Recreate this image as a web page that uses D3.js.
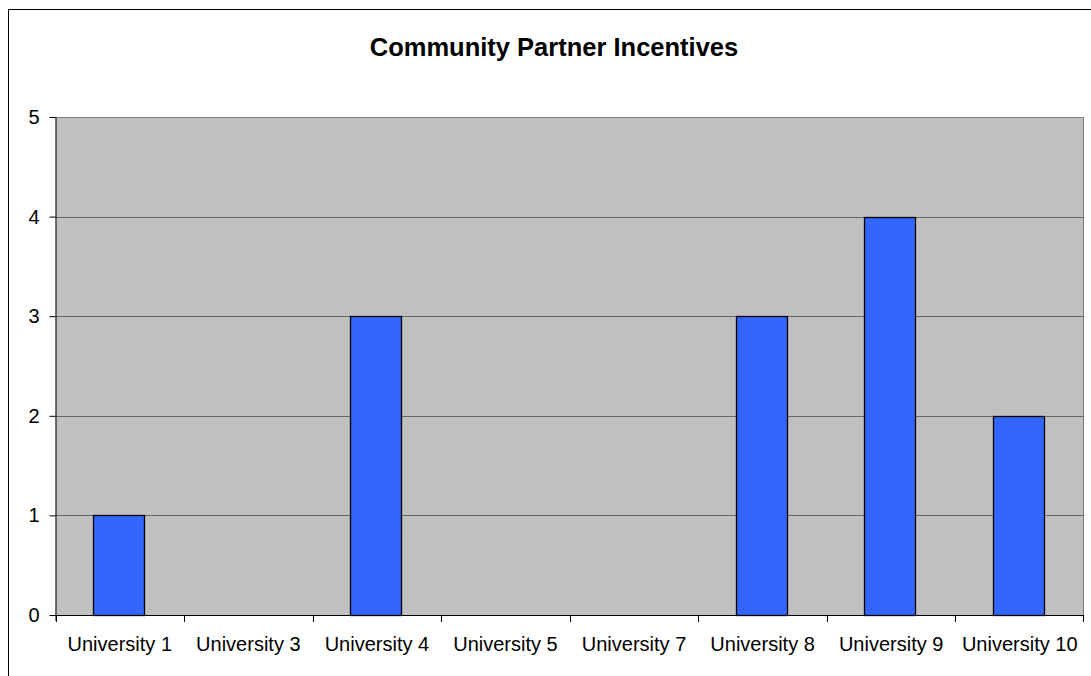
<!DOCTYPE html>
<html>
<head>
<meta charset="utf-8">
<script src="https://cdn.jsdelivr.net/npm/d3@7"></script>
<style>
  html, body { margin: 0; padding: 0; background: #fff; }
  svg { display: block; font-family: Arial, "Liberation Sans", sans-serif; }
</style>
</head>
<body>
<svg id="chart" width="1091" height="676"></svg>
<script>
const title = "Community Partner Incentives";
const categories = ["University 1", "University 3", "University 4", "University 5",
                    "University 7", "University 8", "University 9", "University 10"];
const values = [1, 0, 3, 0, 0, 3, 4, 2];
const yTicks = [0, 1, 2, 3, 4, 5];

const svg = d3.select("#chart");
const plot = { left: 55.5, top: 117, right: 1084, bottom: 615 };

// outer chart frame (runs off the right and bottom edges)
svg.append("rect")
  .attr("x", 8.5).attr("y", 9.5)
  .attr("width", 1100).attr("height", 700)
  .attr("fill", "#fff").attr("stroke", "#000").attr("stroke-width", 1);

const x = d3.scaleBand()
  .domain(categories)
  .range([plot.left, plot.right])
  .paddingInner(0.6).paddingOuter(0.3);

const xOuter = d3.scaleBand()
  .domain(categories)
  .range([plot.left, plot.right]);

const y = d3.scaleLinear().domain([0, 5]).range([plot.bottom, plot.top]);

// plot area background
svg.append("rect")
  .attr("x", plot.left).attr("y", plot.top)
  .attr("width", plot.right - plot.left).attr("height", plot.bottom - plot.top)
  .attr("fill", "#c0c0c0");

// top and right edges of plot area
svg.append("path")
  .attr("d", `M${plot.left},${plot.top + 0.5}H${plot.right - 0.5}V${plot.bottom}`)
  .attr("fill", "none").attr("stroke", "#808080").attr("stroke-width", 1);

// horizontal gridlines
svg.append("g").selectAll("line")
  .data(yTicks.filter(d => d > 0 && d < 5))
  .join("line")
  .attr("x1", plot.left).attr("x2", plot.right)
  .attr("y1", d => Math.round(y(d)) + 0.5).attr("y2", d => Math.round(y(d)) + 0.5)
  .attr("stroke", "#666").attr("stroke-width", 1);

// bars
svg.append("g").selectAll("rect")
  .data(categories.map((c, i) => ({ c, v: values[i] })).filter(d => d.v > 0))
  .join("rect")
  .attr("x", d => Math.round(x(d.c)) - 0.5)
  .attr("width", Math.round(x.bandwidth()))
  .attr("y", d => Math.round(y(d.v)) + 0.5)
  .attr("height", d => Math.round(y(0)) - Math.round(y(d.v)))
  .attr("fill", "#3366ff").attr("stroke", "#000").attr("stroke-width", 1.3);

// y axis
const yAxis = d3.axisLeft(y).tickValues(yTicks).tickSize(6).tickPadding(10).tickFormat(d3.format("d"));
const gy = svg.append("g").attr("transform", `translate(${plot.left},0)`).call(yAxis);
gy.select(".domain").attr("stroke", "#000").attr("d", `M0.5,${plot.top}V${plot.bottom + 6}`);
gy.selectAll(".tick line").attr("stroke", "#000");
gy.selectAll(".tick text").attr("font-size", 20).attr("font-family", "Arial, 'Liberation Sans', sans-serif").attr("fill", "#000");

// x axis: ticks on category boundaries
const gx = svg.append("g").attr("transform", `translate(0,${plot.bottom})`);
gx.append("line")
  .attr("x1", plot.left).attr("x2", plot.right)
  .attr("y1", 0.5).attr("y2", 0.5).attr("stroke", "#000");
const bounds = categories.map(c => xOuter(c)).concat([plot.right - 1]);
gx.selectAll("line.tk").data(bounds).join("line").attr("class", "tk")
  .attr("x1", d => Math.round(d) + 0.5).attr("x2", d => Math.round(d) + 0.5)
  .attr("y1", 0).attr("y2", 7).attr("stroke", "#000");
gx.selectAll("text").data(categories).join("text")
  .attr("x", d => xOuter(d) + xOuter.bandwidth() / 2)
  .attr("y", 36)
  .attr("text-anchor", "middle")
  .attr("font-size", 20)
  .attr("fill", "#000")
  .text(d => d);

// title
svg.append("text")
  .attr("x", 554).attr("y", 56)
  .attr("text-anchor", "middle")
  .attr("font-size", 25.5).attr("font-weight", "bold")
  .attr("fill", "#000")
  .text(title);
</script>
</body>
</html>
